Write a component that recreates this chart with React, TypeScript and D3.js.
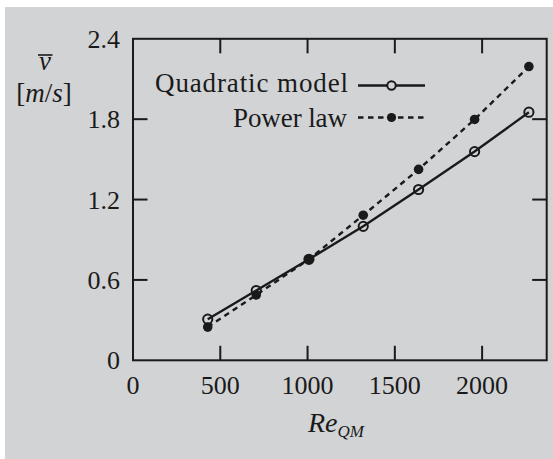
import React from "react";
import * as d3 from "d3";

const reynolds = [428, 706, 1008, 1319, 1636, 1957, 2268];
const quadratic = [0.307, 0.521, 0.754, 1.0, 1.275, 1.558, 1.852];
const powerLaw = [0.248, 0.488, 0.754, 1.083, 1.425, 1.798, 2.193];
const xTicks = [0, 500, 1000, 1500, 2000];
const yTicks = [0, 0.6, 1.2, 1.8, 2.4];
const yTickLabels = ["0", "0.6", "1.2", "1.8", "2.4"];
const legendLabels = ["Quadratic model", "Power law"];

const W = 553;
const H = 459;
const INK = "#1a1a1a";
const BG = "#d2d3d5";
const SERIF = "Liberation Serif";

export default function App() {
  const left = 133, right = 546.7, top = 38.8, bottom = 360.3;
  const x = d3.scaleLinear().domain([0, 2370]).range([left, right]);
  const y = d3.scaleLinear().domain([0, 2.4]).range([bottom, top]);
  const line = d3
    .line<[number, number]>()
    .x((d) => x(d[0]))
    .y((d) => y(d[1]));
  const qPts = reynolds.map((r, i) => [r, quadratic[i]] as [number, number]);
  const pPts = reynolds.map((r, i) => [r, powerLaw[i]] as [number, number]);
  const tickLen = 14.5;
  const lw = 2.4;
  const dash = "5.5,4.5";
  const legX1 = 358, legX2 = 425, legMid = 391.5;
  const legLineY = [85.5, 117.5];
  const legBase = [92, 126.5];
  const font = (size: number, italic = false) => ({
    fontFamily: `"${SERIF}"`,
    fontSize: size,
    fontStyle: italic ? "italic" : "normal",
  });

  return (
    <div style={{ position: "absolute", left: 0, top: 0 }}>
      <svg width={W} height={H} style={{ display: "block" }}>
        <rect x={0} y={0} width={W} height={H} fill="#ffffff" />
        <rect x={5} y={7} width={W - 5} height={H - 7} fill={BG} />
        <g stroke={INK} strokeWidth={2} fill="none">
          <rect x={left} y={top} width={right - left} height={bottom - top} />
          {xTicks
            .filter((t) => t > 0)
            .map((t) => (
              <g key={t}>
                <line x1={x(t)} x2={x(t)} y1={bottom} y2={bottom - tickLen} />
                <line x1={x(t)} x2={x(t)} y1={top} y2={top + tickLen} />
              </g>
            ))}
          {yTicks
            .filter((t) => t > 0 && t < 2.4)
            .map((t) => (
              <g key={t}>
                <line x1={left} x2={left + tickLen} y1={y(t)} y2={y(t)} />
                <line x1={right} x2={right - tickLen} y1={y(t)} y2={y(t)} />
              </g>
            ))}
        </g>
        {xTicks.map((t) => (
          <text key={t} x={x(t)} y={394} textAnchor="middle" fill={INK} style={font(26)}>
            {t}
          </text>
        ))}
        {yTicks.map((t, i) => (
          <text key={t} x={120} y={y(t) + 9} textAnchor="end" fill={INK} style={font(26)}>
            {yTickLabels[i]}
          </text>
        ))}
        <path d={line(pPts) || ""} fill="none" stroke={INK} strokeWidth={lw} strokeDasharray={dash} />
        <path d={line(qPts) || ""} fill="none" stroke={INK} strokeWidth={lw} />
        {pPts.map((d, i) => (
          <circle key={"p" + i} cx={x(d[0])} cy={y(d[1])} r={4.8} fill={INK} />
        ))}
        {qPts.map((d, i) => (
          <circle key={"q" + i} cx={x(d[0])} cy={y(d[1])} r={4.6} fill="none" stroke={INK} strokeWidth={2} />
        ))}
        <text x={155} y={legBase[0]} textLength={193} lengthAdjust="spacing" fill={INK} style={font(27)}>
          {legendLabels[0]}
        </text>
        <text x={233} y={legBase[1]} textLength={114} lengthAdjust="spacing" fill={INK} style={font(27)}>
          {legendLabels[1]}
        </text>
        <line x1={legX1} x2={legX2} y1={legLineY[0]} y2={legLineY[0]} stroke={INK} strokeWidth={lw} />
        <circle cx={legMid} cy={legLineY[0]} r={4.2} fill={BG} stroke={INK} strokeWidth={2} />
        <line x1={legX1} x2={legX2} y1={legLineY[1]} y2={legLineY[1]} stroke={INK} strokeWidth={lw} strokeDasharray={dash} />
        <circle cx={legMid} cy={legLineY[1]} r={4.6} fill={INK} />
        <text x={45} y={70} textAnchor="middle" fill={INK} style={font(27, true)}>
          v
        </text>
        <line x1={38} x2={52.5} y1={55} y2={55} stroke={INK} strokeWidth={1.6} />
        <text x={44} y={102} textAnchor="middle" fill={INK} style={font(27)}>
          [<tspan fontStyle="italic">m</tspan>/<tspan fontStyle="italic">s</tspan>]
        </text>
        <text x={308} y={432} fill={INK} style={font(28, true)}>
          Re
          <tspan fontSize={17} dy={5}>QM</tspan>
        </text>
      </svg>
    </div>
  );
}
